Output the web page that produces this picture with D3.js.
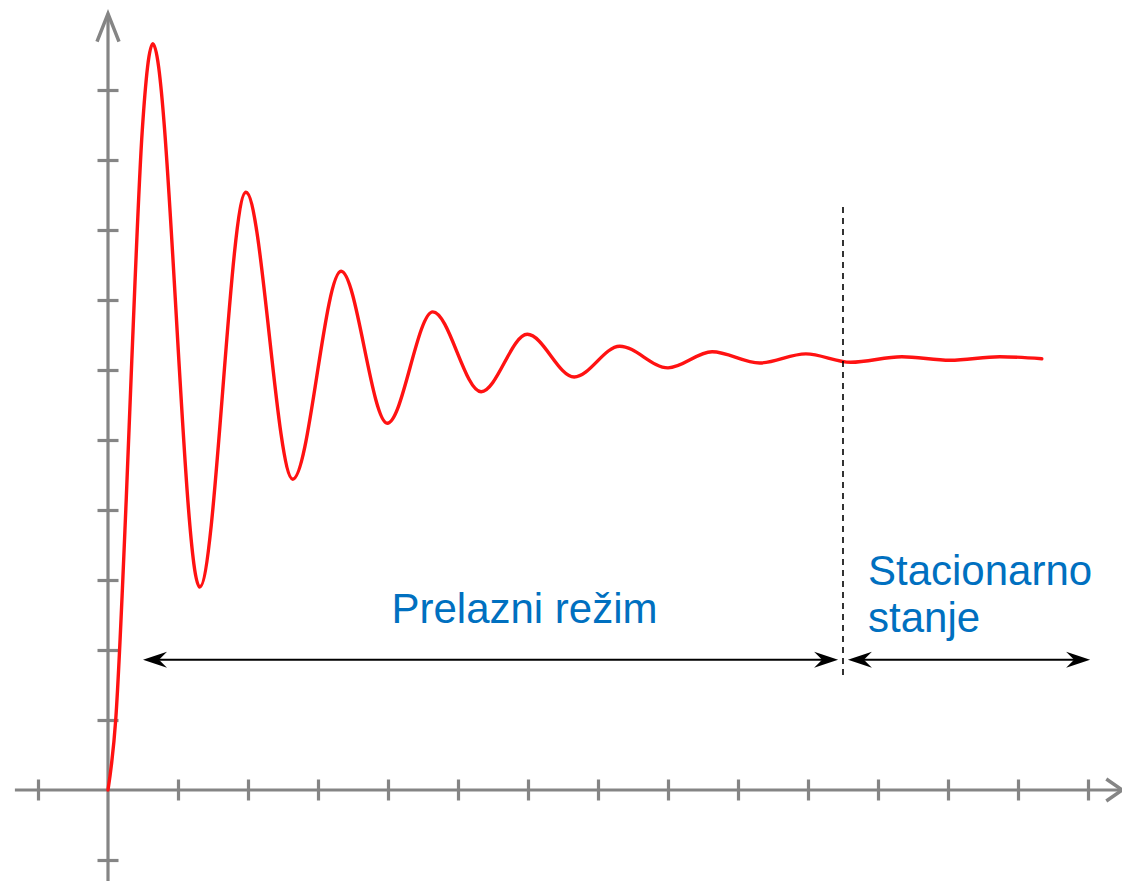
<!DOCTYPE html>
<html>
<head>
<meta charset="utf-8">
<script src="https://cdn.jsdelivr.net/npm/d3@7"></script>
<style>
  html, body { margin: 0; padding: 0; background: #fff; }
  svg { display: block; }
</style>
</head>
<body>
<svg id="chart" width="1122" height="881"></svg>
<script>
// ---- data ----
// rise from the origin, then successive peaks / troughs of the damped response
const responseT = [0, 0.11, 0.26, 0.34, 0.49, 0.64, 1.31, 1.97, 2.64, 3.33, 3.99, 4.64, 5.33, 5.99, 6.66,
  7.31, 8.0, 8.63, 9.31, 9.97, 10.61, 11.34, 12.03, 12.74, 13.34];
const responseV = [0, 1.0, 4.14, 6.14, 9.43, 10.66, 2.9, 8.54, 4.44, 7.41, 5.24, 6.83, 5.69, 6.51, 5.9,
  6.34, 6.03, 6.26, 6.1, 6.23, 6.11, 6.19, 6.14, 6.19, 6.16];
const xTicks = [-1, 1, 2, 3, 4, 5, 6, 7, 8, 9, 10, 11, 12, 13, 14];
const yTicks = [-1, 1, 2, 3, 4, 5, 6, 7, 8, 9, 10];
const xAxisExtent = [-1.33, 14.49];
const yAxisExtent = [-1.31, 11.09];
const boundaryT = 10.5;            // transient / steady-state boundary
const dashedRange = [1.64, 8.33];  // vertical extent of dashed line
const arrowLevel = 1.86;           // height of double arrows
const transientSpan = [0.5, 10.43];
const steadySpan = [10.57, 14.03];
const labelTransient = "Prelazni režim";
const labelTransientAt = 5.95;
const labelSteady = ["Stacionarno", "stanje"];

// ---- scales ----
const x = d3.scaleLinear().domain([0, 14]).range([108, 1088]);
const y = d3.scaleLinear().domain([0, 10]).range([790, 90]);

const svg = d3.select("#chart");
const axisColor = "#858585";

// ---- axes ----
const g = svg.append("g");
g.append("line")
  .attr("x1", x(xAxisExtent[0])).attr("x2", x(xAxisExtent[1]))
  .attr("y1", y(0)).attr("y2", y(0))
  .attr("stroke", axisColor).attr("stroke-width", 3.2);
g.append("line")
  .attr("x1", x(0)).attr("x2", x(0))
  .attr("y1", y(yAxisExtent[0])).attr("y2", y(yAxisExtent[1]))
  .attr("stroke", axisColor).attr("stroke-width", 3.2);

const xAxis = d3.axisBottom(x).tickValues(xTicks).tickSize(0).tickFormat("");
const xg = g.append("g").attr("transform", `translate(0,${y(0)})`).call(xAxis);
xg.select(".domain").remove();
xg.selectAll(".tick line").attr("y1", -10.5).attr("y2", 10.5)
  .attr("stroke", axisColor).attr("stroke-width", 3.2);

const yAxis = d3.axisLeft(y).tickValues(yTicks).tickSize(0).tickFormat("");
const yg = g.append("g").attr("transform", `translate(${x(0)},0)`).call(yAxis);
yg.select(".domain").remove();
yg.selectAll(".tick line").attr("x1", -10.5).attr("x2", 10.5)
  .attr("stroke", axisColor).attr("stroke-width", 3.2);

// open arrowheads on axes
const xt = x(xAxisExtent[1]), yt = y(yAxisExtent[1]);
g.append("path")
  .attr("d", `M${xt - 16},${y(0) - 11} L${xt},${y(0)} L${xt - 16},${y(0) + 11}`)
  .attr("fill", "none").attr("stroke", axisColor).attr("stroke-width", 3.5);
g.append("path")
  .attr("d", `M${x(0) - 11},${yt + 28} L${x(0)},${yt} L${x(0) + 11},${yt + 28}`)
  .attr("fill", "none").attr("stroke", axisColor).attr("stroke-width", 3.5);

// ---- response curve ----
const pts = responseT.map((t, i) => [t, responseV[i]]);
const line = d3.line().x(d => x(d[0])).y(d => y(d[1])).curve(d3.curveMonotoneX);
svg.append("path").datum(pts)
  .attr("d", line)
  .attr("fill", "none").attr("stroke", "#ff1212").attr("stroke-width", 3.4)
  .attr("stroke-linejoin", "round").attr("stroke-linecap", "round");

// ---- dashed boundary ----
svg.append("line")
  .attr("x1", x(boundaryT)).attr("x2", x(boundaryT))
  .attr("y1", y(dashedRange[1])).attr("y2", y(dashedRange[0]))
  .attr("stroke", "#000").attr("stroke-width", 1.6)
  .attr("stroke-dasharray", "6,5");

// ---- double arrows ----
function arrowHead(tipX, yy, dir) {
  const L = 24, W = 8, notch = 16;
  return `M${tipX},${yy} L${tipX - dir * L},${yy - W} L${tipX - dir * notch},${yy} L${tipX - dir * L},${yy + W} Z`;
}
function doubleArrow(span) {
  const x1 = x(span[0]), x2 = x(span[1]), yy = y(arrowLevel);
  svg.append("line").attr("x1", x1 + 10).attr("x2", x2 - 10)
    .attr("y1", yy).attr("y2", yy).attr("stroke", "#000").attr("stroke-width", 2);
  svg.append("path").attr("d", arrowHead(x1, yy, -1)).attr("fill", "#000");
  svg.append("path").attr("d", arrowHead(x2, yy, 1)).attr("fill", "#000");
}
doubleArrow(transientSpan);
doubleArrow(steadySpan);

// ---- labels ----
const font = "'Liberation Sans', Arial, sans-serif";
svg.append("text")
  .attr("x", x(labelTransientAt))
  .attr("y", y(arrowLevel) - 37)
  .attr("text-anchor", "middle")
  .attr("font-family", font).attr("font-size", 42)
  .attr("fill", "#0070c0")
  .text(labelTransient);
const st = svg.append("text")
  .attr("font-family", font).attr("font-size", 42)
  .attr("fill", "#0070c0");
labelSteady.forEach((s, i) => {
  st.append("tspan").attr("x", x(boundaryT) + 25).attr("y", y(arrowLevel) - 75 + i * 47).text(s);
});
</script>
</body>
</html>
